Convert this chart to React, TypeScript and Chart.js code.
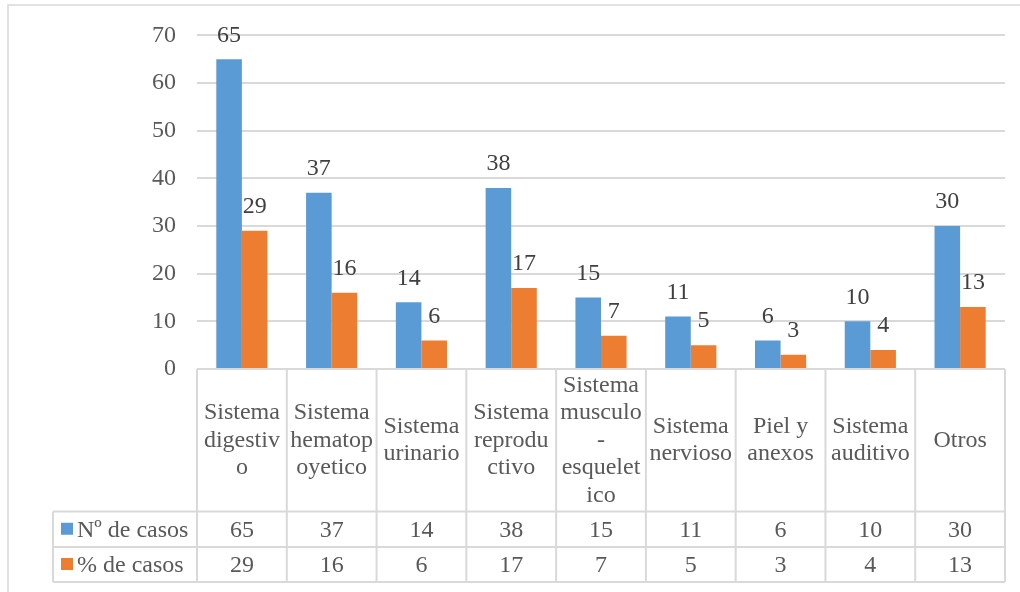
import React, { useEffect, useRef } from "react";
import { Chart, registerables } from "chart.js";

Chart.register(...registerables);

const categories: string[][] = [
  ["Sistema", "digestiv", "o"],
  ["Sistema", "hematop", "oyetico"],
  ["Sistema", "urinario"],
  ["Sistema", "reprodu", "ctivo"],
  ["Sistema", "musculo", "-", "esquelet", "ico"],
  ["Sistema", "nervioso"],
  ["Piel y", "anexos"],
  ["Sistema", "auditivo"],
  ["Otros"],
];
const seriesNames = ["Nº de casos", "% de casos"];
const casos = [65, 37, 14, 38, 15, 11, 6, 10, 30];
const porcentaje = [29, 16, 6, 17, 7, 5, 3, 4, 13];
const colors = ["#5B9BD5", "#ED7D31"];

const FONT = "'Liberation Serif', 'Times New Roman', serif";
const TXT = "#595959";
const LINE = "#D9D9D9";

const tablePlugin = {
  id: "tablePlugin",
  afterDraw(chart: any) {
    const ctx = chart.ctx;
    const xs = chart.scales.x;
    const area = chart.chartArea;
    const n = categories.length;
    const left = area.left;
    const right = area.right;
    const colW = (right - left) / n;
    const top = area.bottom;
    const headerBottom = top + 142.5;
    const row1Bottom = headerBottom + 35.5;
    const row2Bottom = row1Bottom + 35;
    const legendLeft = 53;

    ctx.save();
    // outer border (top & left visible)
    ctx.strokeStyle = LINE;
    ctx.lineWidth = 1.5;
    ctx.beginPath();
    ctx.moveTo(8, 600);
    ctx.lineTo(8, 5);
    ctx.lineTo(1030, 5);
    ctx.stroke();

    ctx.lineWidth = 2;
    ctx.strokeStyle = LINE;
    ctx.beginPath();
    // top line of header
    ctx.moveTo(left, top);
    ctx.lineTo(right, top);
    // horizontal row lines
    [headerBottom, row1Bottom, row2Bottom].forEach((y) => {
      ctx.moveTo(legendLeft, y);
      ctx.lineTo(right, y);
    });
    // vertical column lines
    for (let i = 0; i <= n; i++) {
      const x = left + i * colW;
      ctx.moveTo(x, top);
      ctx.lineTo(x, row2Bottom);
    }
    ctx.moveTo(legendLeft, headerBottom);
    ctx.lineTo(legendLeft, row2Bottom);
    ctx.stroke();

    ctx.fillStyle = TXT;
    ctx.font = `24px ${FONT}`;
    ctx.textAlign = "center";
    ctx.textBaseline = "middle";
    const lh = 27.5;
    const headMid = (top + headerBottom) / 2;
    categories.forEach((lines, i) => {
      const cx = xs.getPixelForValue(i);
      const y0 = headMid - ((lines.length - 1) * lh) / 2;
      lines.forEach((t, j) => ctx.fillText(t, cx, y0 + j * lh));
    });

    const rows = [casos, porcentaje];
    const rowMids = [(headerBottom + row1Bottom) / 2, (row1Bottom + row2Bottom) / 2];
    rows.forEach((vals, r) => {
      const y = rowMids[r];
      vals.forEach((v, i) => {
        ctx.textAlign = "center";
        ctx.fillStyle = TXT;
        ctx.fillText(String(v), xs.getPixelForValue(i), y + 1);
      });
      ctx.fillStyle = colors[r];
      ctx.fillRect(61, y - 6.5, 12, 12);
      ctx.fillStyle = TXT;
      ctx.textAlign = "left";
      ctx.fillText(seriesNames[r], 77, y + 1);
    });

    // data labels
    ctx.fillStyle = "#404040";
    ctx.textAlign = "center";
    chart.data.datasets.forEach((ds: any, di: number) => {
      const meta = chart.getDatasetMeta(di);
      meta.data.forEach((el: any, i: number) => {
        ctx.fillText(String(ds.data[i]), el.x, el.y - 24);
      });
    });
    ctx.restore();
  },
};

export default function App() {
  const ref = useRef<HTMLCanvasElement>(null);
  useEffect(() => {
    document.body.style.margin = "0";
    const chart = new Chart(ref.current!, {
      type: "bar",
      data: {
        labels: categories.map((c) => c.join(" ")),
        datasets: [
          {
            label: seriesNames[0],
            data: casos,
            backgroundColor: colors[0],
            categoryPercentage: 0.57,
            barPercentage: 1,
          },
          {
            label: seriesNames[1],
            data: porcentaje,
            backgroundColor: colors[1],
            categoryPercentage: 0.57,
            barPercentage: 1,
          },
        ],
      },
      options: {
        animation: false,
        responsive: false,
        layout: { padding: { top: 35, right: 15, bottom: 223, left: 0 } },
        plugins: { legend: { display: false }, tooltip: { enabled: false } },
        scales: {
          x: { display: false },
          y: {
            min: 0,
            max: 70,
            ticks: {
              stepSize: 10,
              padding: 21,
              color: TXT,
              font: { family: FONT, size: 24 },
            },
            grid: { color: LINE, lineWidth: 2, drawTicks: false },
            border: { display: false },
            afterFit: (s: any) => {
              s.width = 197;
            },
          },
        },
      },
      plugins: [tablePlugin],
    });
    return () => chart.destroy();
  }, []);
  return <canvas ref={ref} width={1020} height={592} style={{ display: "block" }} />;
}
